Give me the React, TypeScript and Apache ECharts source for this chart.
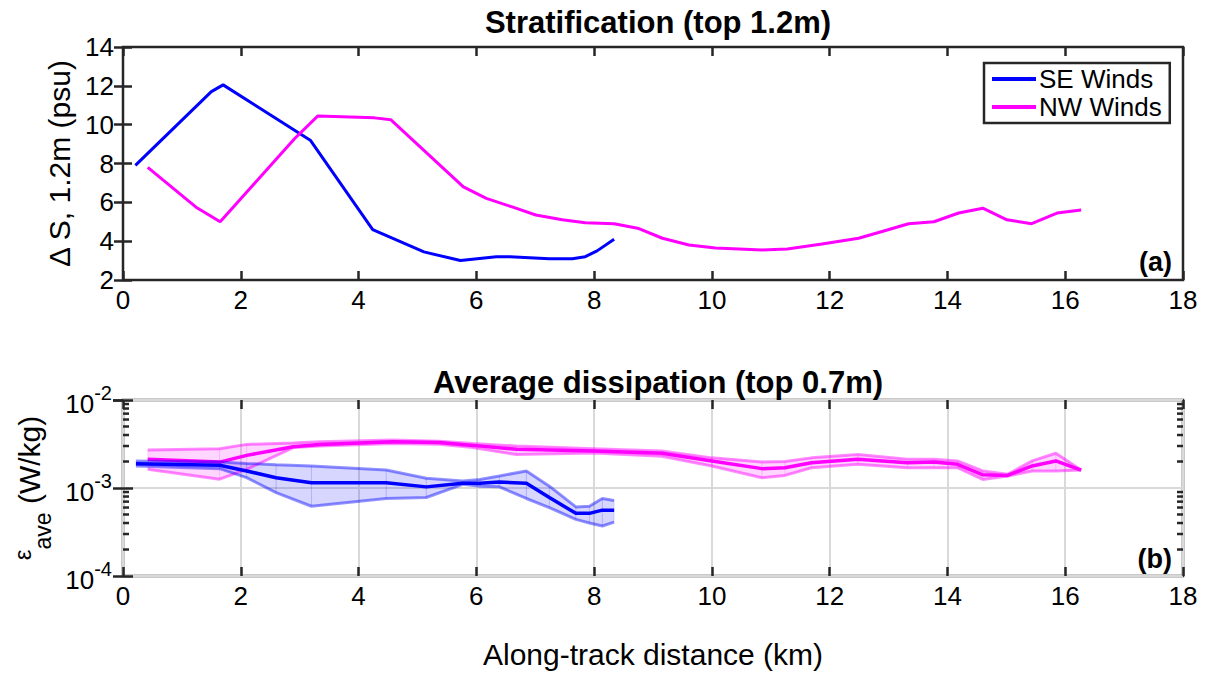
import React, { useEffect, useRef } from "react";
import * as echarts from "echarts";

// ---------- data ----------
const xTickLabels = [0, 2, 4, 6, 8, 10, 12, 14, 16, 18];

// (a) stratification, Delta S over top 1.2 m (psu)
const seX = [0.21, 1.5, 1.7, 3.18, 4.24, 5.11, 5.73, 6.34, 6.57, 7.24, 7.63, 7.85, 8.05, 8.34];
const seS = [7.9, 11.7, 12.05, 9.2, 4.6, 3.45, 3.0, 3.2, 3.2, 3.1, 3.1, 3.2, 3.5, 4.1];

const nwX = [0.42, 1.24, 1.65, 2.92, 3.31, 4.27, 4.55, 5.78, 6.17, 6.62, 7.01, 7.46, 7.85, 8.34, 8.76, 9.16, 9.61, 10.06, 10.46, 10.85, 11.28, 11.87, 12.49, 12.89, 13.34, 13.77, 14.19, 14.6, 15.01, 15.43, 15.86, 16.27];
const nwS = [7.8, 5.75, 5.0, 9.3, 10.45, 10.35, 10.25, 6.8, 6.2, 5.75, 5.35, 5.1, 4.95, 4.9, 4.65, 4.15, 3.8, 3.65, 3.6, 3.55, 3.6, 3.85, 4.15, 4.5, 4.9, 5.0, 5.45, 5.7, 5.1, 4.9, 5.45, 5.6];

// (b) average dissipation (W/kg)
const seEpsX = [0.22, 1.64, 2.1, 2.6, 3.2, 4.47, 5.15, 5.77, 6.06, 6.39, 6.85, 7.24, 7.69, 7.92, 8.14, 8.34];
const seEpsMean = [1.89e-3, 1.81e-3, 1.56e-3, 1.31e-3, 1.15e-3, 1.15e-3, 1.03e-3, 1.13e-3, 1.13e-3, 1.17e-3, 1.13e-3, 7.8e-4, 5.15e-4, 5.15e-4, 5.6e-4, 5.6e-4];
const seEpsHigh = [2.03e-3, 1.97e-3, 1.9e-3, 1.84e-3, 1.78e-3, 1.6e-3, 1.29e-3, 1.2e-3, 1.25e-3, 1.37e-3, 1.56e-3, 1.05e-3, 6.1e-4, 6.2e-4, 7.6e-4, 7.2e-4];
const seEpsLow = [1.78e-3, 1.66e-3, 1.31e-3, 8.85e-4, 6.2e-4, 7.6e-4, 7.8e-4, 1.1e-3, 1.05e-3, 1.03e-3, 7.6e-4, 6.0e-4, 4.4e-4, 4.0e-4, 3.7e-4, 4.1e-4];

const nwEpsX = [0.42, 1.64, 2.1, 2.89, 3.34, 4.58, 5.37, 5.94, 6.68, 8.0, 9.15, 10.0, 10.85, 11.24, 11.69, 12.48, 13.32, 13.77, 14.17, 14.6, 15.02, 15.44, 15.84, 16.27];
const nwEpsMean = [2.12e-3, 1.97e-3, 2.35e-3, 2.95e-3, 3.13e-3, 3.36e-3, 3.28e-3, 3.05e-3, 2.75e-3, 2.63e-3, 2.48e-3, 2.03e-3, 1.66e-3, 1.7e-3, 1.94e-3, 2.12e-3, 1.94e-3, 1.97e-3, 1.86e-3, 1.41e-3, 1.39e-3, 1.78e-3, 2.03e-3, 1.6e-3];
const nwEpsHigh = [2.7e-3, 2.8e-3, 3.13e-3, 3.25e-3, 3.36e-3, 3.5e-3, 3.4e-3, 3.2e-3, 3.0e-3, 2.8e-3, 2.63e-3, 2.2e-3, 1.98e-3, 2.0e-3, 2.2e-3, 2.4e-3, 2.12e-3, 2.12e-3, 2.03e-3, 1.56e-3, 1.43e-3, 2.03e-3, 2.48e-3, 1.6e-3];
const nwEpsLow = [1.63e-3, 1.26e-3, 1.63e-3, 2.88e-3, 3.0e-3, 3.2e-3, 3.15e-3, 2.88e-3, 2.4e-3, 2.5e-3, 2.3e-3, 1.78e-3, 1.31e-3, 1.39e-3, 1.7e-3, 1.86e-3, 1.7e-3, 1.7e-3, 1.7e-3, 1.25e-3, 1.37e-3, 1.56e-3, 1.56e-3, 1.6e-3];

const logMinorTicks = [2e-4, 3e-4, 4e-4, 5e-4, 6e-4, 7e-4, 8e-4, 9e-4, 2e-3, 3e-3, 4e-3, 5e-3, 6e-3, 7e-3, 8e-3, 9e-3];

// ---------- helpers ----------
const FONT = "'Liberation Sans', Arial, Helvetica, sans-serif";
const FRAME = "#262626";
const BLUE = "#0000ff";
const MAGENTA = "#ff00ff";
const TICK_FS = 26;
const LABEL_FS = 30;
const TITLE_FS = 31;

const pairs = (xs: number[], ys: number[]) => xs.map((x, i) => [x, ys[i]]);
const bandSegments = (xs: number[], lo: number[], hi: number[]) =>
  xs.slice(0, -1).map((x, i) => [x, lo[i], hi[i], xs[i + 1], lo[i + 1], hi[i + 1]]);

const bandRender = (fill: string) => (params: any, api: any) => {
  const a = api.coord([api.value(0), api.value(2)]);
  const b = api.coord([api.value(3), api.value(5)]);
  const c = api.coord([api.value(3), api.value(4)]);
  const d = api.coord([api.value(0), api.value(1)]);
  return {
    type: "polygon",
    shape: { points: [a, b, c, d] },
    style: { fill, stroke: fill, lineWidth: 0.6 },
    silent: true,
  };
};

export default function App() {
  const ref = useRef<HTMLDivElement>(null);

  useEffect(() => {
    if (!ref.current) return;
    const chart = echarts.init(ref.current, null, { renderer: "svg" });

    const tickStyle = { color: FRAME, width: 2.5 };
    const xBase = (gridIndex: number, position: "bottom" | "top", labels: boolean) => ({
      type: "value" as const,
      gridIndex,
      position,
      min: 0,
      max: 18,
      interval: 2,
      axisLine: { show: false },
      axisTick: { show: true, inside: true, length: 9, lineStyle: tickStyle },
      axisLabel: {
        show: labels,
        fontSize: TICK_FS,
        fontFamily: FONT,
        color: "#000",
        margin: 7,
        formatter: (v: number) => (xTickLabels.indexOf(v) >= 0 ? String(v) : ""),
      },
      splitLine: {
        show: gridIndex === 1 && position === "bottom",
        lineStyle: { color: "#d9d9d9", width: 2 },
      },
    });

    const logLabel = (v: number) => `{b|10}{s|${Math.round(Math.log10(v))}}`;

    const option: any = {
      animation: false,
      backgroundColor: "#ffffff",
      textStyle: { fontFamily: FONT },
      title: [
        {
          text: "Stratification (top 1.2m)",
          left: 653,
          top: 2,
          textAlign: "center",
          textStyle: { fontSize: TITLE_FS, fontWeight: "bold", fontFamily: FONT, color: "#000" },
        },
        {
          text: "Average dissipation (top 0.7m)",
          left: 653,
          top: 362,
          textAlign: "center",
          textStyle: { fontSize: TITLE_FS, fontWeight: "bold", fontFamily: FONT, color: "#000" },
        },
      ],
      legend: {
        data: ["SE Winds", "NW Winds"],
        orient: "vertical",
        left: 984,
        top: 63,
        backgroundColor: "#fff",
        borderColor: FRAME,
        borderWidth: 2.5,
        borderRadius: 0,
        padding: [3, 8, 3, 8],
        itemGap: 2,
        itemWidth: 44,
        itemHeight: 4,
        icon: "rect",
        textStyle: { fontSize: 26, fontFamily: FONT, color: "#000", padding: [0, 0, 0, -2] },
      },
      grid: [
        { left: 123, top: 47, width: 1060, height: 233, show: true, borderColor: FRAME, borderWidth: 2.5, backgroundColor: "transparent" },
        { left: 123, top: 400, width: 1060, height: 176, show: true, borderColor: FRAME, borderWidth: 2.5, backgroundColor: "transparent" },
      ],
      xAxis: [
        xBase(0, "bottom", true),
        xBase(0, "top", false),
        {
          ...xBase(1, "bottom", true),
          name: "Along-track distance (km)",
          nameLocation: "middle",
          nameGap: 63,
          nameTextStyle: { fontSize: LABEL_FS, fontFamily: FONT, color: "#000" },
        },
        xBase(1, "top", false),
      ],
      yAxis: [
        {
          type: "value",
          gridIndex: 0,
          min: 2,
          max: 14,
          interval: 2,
          name: "\u0394 S, 1.2m (psu)",
          nameLocation: "middle",
          nameGap: 45,
          nameTextStyle: { fontSize: LABEL_FS, fontFamily: FONT, color: "#000" },
          axisLine: { show: false },
          axisTick: { show: true, inside: true, length: 9, lineStyle: tickStyle },
          axisLabel: { fontSize: TICK_FS, fontFamily: FONT, color: "#000", margin: 9 },
          splitLine: { show: false },
        },
        {
          type: "value",
          gridIndex: 0,
          position: "right",
          min: 2,
          max: 14,
          interval: 2,
          axisLine: { show: false },
          axisTick: { show: true, inside: true, length: 9, lineStyle: tickStyle },
          axisLabel: { show: false },
          splitLine: { show: false },
        },
        {
          type: "log",
          logBase: 10,
          gridIndex: 1,
          min: 1e-4,
          max: 1e-2,
          splitNumber: 2,
          name: "{e|\u03b5}{s|ave}{m| (W/kg)}",
          nameLocation: "middle",
          nameGap: 65,
          nameTextStyle: {
            fontFamily: FONT,
            color: "#000",
            rich: {
              e: { fontSize: 24, fontFamily: FONT, verticalAlign: "middle", lineHeight: 50, padding: [0, 0, 14, 0], color: "#000" },
              s: { fontSize: 23, fontFamily: FONT, verticalAlign: "bottom", lineHeight: 50, color: "#000" },
              m: { fontSize: LABEL_FS, fontFamily: FONT, verticalAlign: "middle", lineHeight: 50, color: "#000" },
            },
          },
          axisLine: { show: false },
          axisTick: { show: true, inside: true, length: 10, lineStyle: tickStyle },
          axisLabel: {
            margin: 11,
            formatter: logLabel,
            rich: {
              b: { fontSize: TICK_FS, fontFamily: FONT, color: "#000", lineHeight: 34, verticalAlign: "bottom" },
              s: { fontSize: 20, fontFamily: FONT, color: "#000", lineHeight: 34, verticalAlign: "top" },
            },
          },
          splitLine: { show: true, lineStyle: { color: "#d9d9d9", width: 2 } },
        },
        {
          type: "log",
          logBase: 10,
          gridIndex: 1,
          position: "right",
          min: 1e-4,
          max: 1e-2,
          splitNumber: 2,
          axisLine: { show: false },
          axisTick: { show: true, inside: true, length: 10, lineStyle: tickStyle },
          axisLabel: { show: false },
          splitLine: { show: false },
        },
      ],
      series: [
        {
          name: "SE Winds",
          type: "line",
          xAxisIndex: 0,
          yAxisIndex: 0,
          data: pairs(seX, seS),
          showSymbol: false,
          symbol: "none",
          lineStyle: { color: BLUE, width: 3 },
          itemStyle: { color: BLUE },
        },
        {
          name: "NW Winds",
          type: "line",
          xAxisIndex: 0,
          yAxisIndex: 0,
          data: pairs(nwX, nwS),
          showSymbol: false,
          symbol: "none",
          lineStyle: { color: MAGENTA, width: 3 },
          itemStyle: { color: MAGENTA },
        },
        // bands
        {
          name: "NW band",
          type: "custom",
          xAxisIndex: 2,
          yAxisIndex: 2,
          data: bandSegments(nwEpsX, nwEpsLow, nwEpsHigh),
          encode: { x: [0, 3], y: [1, 2, 4, 5] },
          renderItem: bandRender("rgba(255,0,255,0.16)"),
          z: 1,
        },
        {
          name: "SE band",
          type: "custom",
          xAxisIndex: 2,
          yAxisIndex: 2,
          data: bandSegments(seEpsX, seEpsLow, seEpsHigh),
          encode: { x: [0, 3], y: [1, 2, 4, 5] },
          renderItem: bandRender("rgba(0,0,255,0.16)"),
          z: 1,
        },
        ...[
          { n: "NW high", xs: nwEpsX, ys: nwEpsHigh, c: "rgba(255,0,255,0.45)", w: 3 },
          { n: "NW low", xs: nwEpsX, ys: nwEpsLow, c: "rgba(255,0,255,0.45)", w: 3 },
          { n: "NW mean", xs: nwEpsX, ys: nwEpsMean, c: MAGENTA, w: 3.5 },
          { n: "SE high", xs: seEpsX, ys: seEpsHigh, c: "rgba(0,0,255,0.42)", w: 3 },
          { n: "SE low", xs: seEpsX, ys: seEpsLow, c: "rgba(0,0,255,0.42)", w: 3 },
          { n: "SE mean", xs: seEpsX, ys: seEpsMean, c: BLUE, w: 3.5 },
        ].map((s) => ({
          name: s.n,
          type: "line",
          xAxisIndex: 2,
          yAxisIndex: 2,
          data: pairs(s.xs, s.ys),
          showSymbol: false,
          symbol: "none",
          lineStyle: { color: s.c, width: s.w },
          itemStyle: { color: s.c },
          z: 2,
        })),
        {
          name: "minor ticks",
          type: "custom",
          xAxisIndex: 2,
          yAxisIndex: 2,
          data: logMinorTicks.map((v) => [0, v]),
          encode: { x: 0, y: 1 },
          renderItem: (params: any, api: any) => {
            const v = api.value(1);
            const l = api.coord([0, v]);
            const r = api.coord([18, v]);
            return {
              type: "group",
              children: [
                { type: "line", shape: { x1: l[0], y1: l[1], x2: l[0] + 6, y2: l[1] }, style: { stroke: FRAME, lineWidth: 2.5 } },
                { type: "line", shape: { x1: r[0] - 6, y1: r[1], x2: r[0], y2: r[1] }, style: { stroke: FRAME, lineWidth: 2.5 } },
              ],
            };
          },
          silent: true,
          z: 5,
        },
      ],
      graphic: [
        { type: "text", right: 1210 - 1172, top: 248, style: { text: "(a)", font: `bold 27px ${FONT}`, fill: "#000" } },
        { type: "text", right: 1210 - 1172, top: 545, style: { text: "(b)", font: `bold 27px ${FONT}`, fill: "#000" } },
      ],
    };

    chart.setOption(option);
    return () => chart.dispose();
  }, []);

  return (
    <div
      ref={ref}
      style={{ position: "fixed", left: 0, top: 0, width: 1210, height: 679, background: "#fff" }}
    />
  );
}
